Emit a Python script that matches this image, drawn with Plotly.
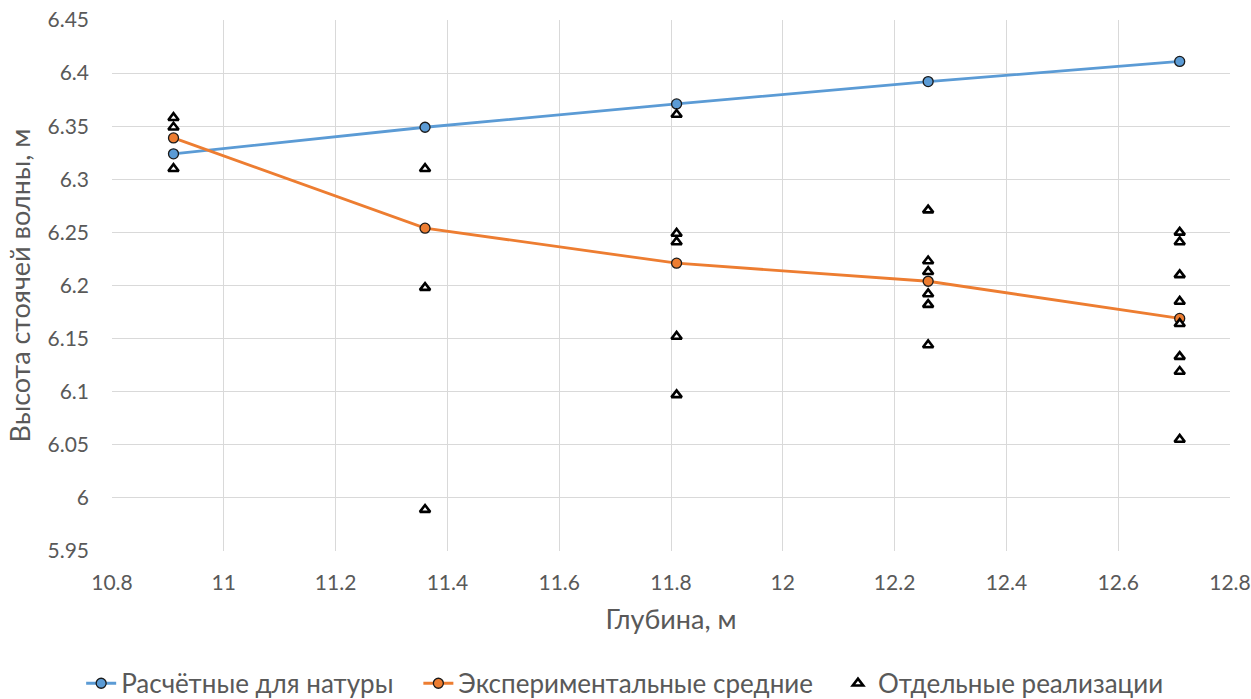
import plotly.graph_objects as go

# Глубины, м
depth = [10.91, 11.36, 11.81, 12.26, 12.71]

# Расчётные значения для натуры, м
calc_heights = [6.324, 6.349, 6.371, 6.392, 6.411]

# Экспериментальные средние, м
exp_means = [6.339, 6.254, 6.221, 6.204, 6.169]

# Отдельные реализации по глубинам
real_10_91 = [6.358, 6.349, 6.310]
real_11_36 = [6.310, 6.198, 5.989]
real_11_81 = [6.361, 6.249, 6.241, 6.152, 6.097]
real_12_26 = [6.271, 6.223, 6.213, 6.192, 6.182, 6.144]
real_12_71 = [6.250, 6.241, 6.210, 6.185, 6.164, 6.133, 6.119, 6.055]

realizations = [real_10_91, real_11_36, real_11_81, real_12_26, real_12_71]
real_x = [d for d, vals in zip(depth, realizations) for _ in vals]
real_y = [v for vals in realizations for v in vals]

FONT = "Lato"
TICK_FS = 21
TITLE_FS = 27
LEG_FS = 26
GREY = "#595959"
GRID = "#d9d9d9"
PAD = "\u00a0" * 3  # extra spacing between legend entries

fig = go.Figure()

fig.add_trace(go.Scatter(
    x=depth, y=calc_heights, mode="lines+markers",
    name="Расчётные для натуры" + PAD,
    line=dict(color="#5B9BD5", width=2.8),
    marker=dict(symbol="circle", size=10, color="#5B9BD5",
                line=dict(color="#1a1a1a", width=1.3)),
))

fig.add_trace(go.Scatter(
    x=depth, y=exp_means, mode="lines+markers",
    name="Экспериментальные средние" + PAD,
    line=dict(color="#ED7D31", width=2.8),
    marker=dict(symbol="circle", size=10, color="#ED7D31",
                line=dict(color="#1a1a1a", width=1.3)),
))

fig.add_trace(go.Scatter(
    x=real_x, y=real_y, mode="markers",
    name="Отдельные реализации",
    marker=dict(symbol="triangle-up", size=9, color="white",
                line=dict(color="black", width=2.6)),
))

fig.update_layout(
    width=1251, height=699,
    margin=dict(l=112, r=21, t=20, b=148, autoexpand=False),
    paper_bgcolor="white", plot_bgcolor="white",
    font=dict(family=FONT, size=TICK_FS, color=GREY),
    showlegend=True,
    legend=dict(orientation="h", x=0.459, xanchor="center",
                y=-0.205, yanchor="top",
                font=dict(family=FONT, size=LEG_FS, color=GREY),
                itemwidth=30, traceorder="normal"),
    xaxis=dict(
        range=[10.8, 12.8], dtick=0.2, tick0=10.8,
        showgrid=True, gridcolor=GRID, gridwidth=1.3,
        zeroline=False, showline=False, automargin=False,
        ticks="", ticklabelstandoff=17, ticklabeloverflow="allow",
        tickfont=dict(family=FONT, size=TICK_FS, color=GREY),
        title=dict(text="Глубина, м", standoff=17,
                   font=dict(family=FONT, size=TITLE_FS, color=GREY)),
    ),
    yaxis=dict(
        range=[5.95, 6.45], dtick=0.05, tick0=5.95,
        showgrid=True, gridcolor=GRID, gridwidth=1.3,
        zeroline=False, showline=False, automargin=False,
        ticks="", ticklabelstandoff=22, ticklabeloverflow="allow",
        tickfont=dict(family=FONT, size=TICK_FS, color=GREY),
        title=dict(text="Высота стоячей волны, м", standoff=9,
                   font=dict(family=FONT, size=TITLE_FS, color=GREY)),
    ),
)

fig.write_html("out.html")
